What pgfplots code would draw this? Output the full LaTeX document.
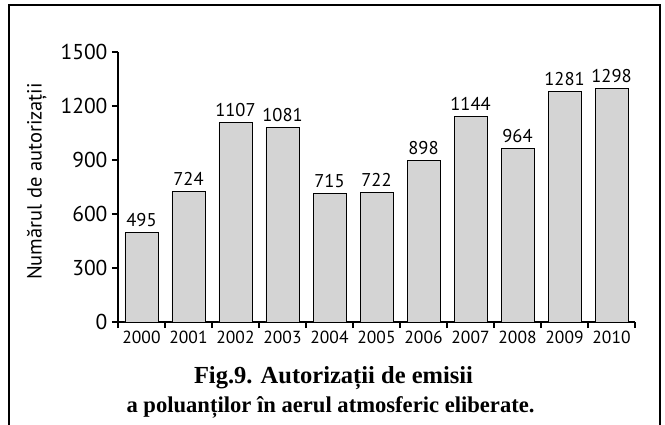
\documentclass[border=0pt]{standalone}
\usepackage{fontspec}
\setmainfont{PT Sans}
\newfontfamily\capfont{Liberation Serif}
\usepackage{pgfplots}
\pgfplotsset{compat=1.18}
\definecolor{barfill}{RGB}{212,212,212}
\begin{document}
\begin{tikzpicture}[x=1pt,y=1pt]
\begin{axis}[
  at={(118pt,102pt)}, anchor=south west,
  scale only axis, width=517pt, height=270pt,
  xmin=-0.5, xmax=10.5, ymin=0, ymax=1500,
  axis lines*=left,
  axis line style={line width=1.1pt},
  /pgf/number format/.cd, 1000 sep={}, assume math mode=true, /pgfplots/.cd,
  ybar, bar width=33pt,
  xtick={-0.5,0.5,...,10.5}, xticklabels={},
  x tick style={line width=1.1pt, black},
  tick align=outside, major tick length=6pt,
  extra x ticks={0,1,...,10},
  extra x tick labels={2000,2001,2002,2003,2004,2005,2006,2007,2008,2009,2010},
  extra x tick style={major tick length=0pt, xticklabel style={font=\fontsize{17.5}{17.5}\selectfont, yshift=-6pt}},
  ytick={0,300,...,1500},
  y tick style={line width=1.1pt, black},
  yticklabel style={font=\fontsize{21.5}{21.5}\selectfont, xshift=-1pt},
  ylabel={Numărul de autorizații},
  ylabel style={font=\fontsize{20.5}{20.5}\selectfont, at={(axis description cs:-0.157,0.52)}, anchor=center},
  nodes near coords,
  nodes near coords style={font=\fontsize{18.5}{18.5}\selectfont, yshift=2pt, black},
]
\addplot[draw=black, line width=0.9pt, fill=barfill] coordinates {
  (0,495) (1,724) (2,1107) (3,1081) (4,715) (5,722)
  (6,898) (7,1144) (8,964) (9,1281) (10,1298)
};
\end{axis}
\node[anchor=base, font=\capfont\bfseries\fontsize{24.5}{28}\selectfont] at (333.5pt,41pt)
  {Fig.9. Autorizații de emisii};
\node[anchor=base, font=\capfont\bfseries\fontsize{22.6}{28}\selectfont] at (330.5pt,12pt)
  {a poluanților în aerul atmosferic eliberate.};
\draw[line width=2pt] (8.5pt,-10pt) -- (8.5pt,419pt) -- (660pt,419pt) -- (660pt,-10pt);
\pgfresetboundingbox
\path[use as bounding box] (0pt,0pt) rectangle (665pt,424pt);
\end{tikzpicture}
\end{document}
